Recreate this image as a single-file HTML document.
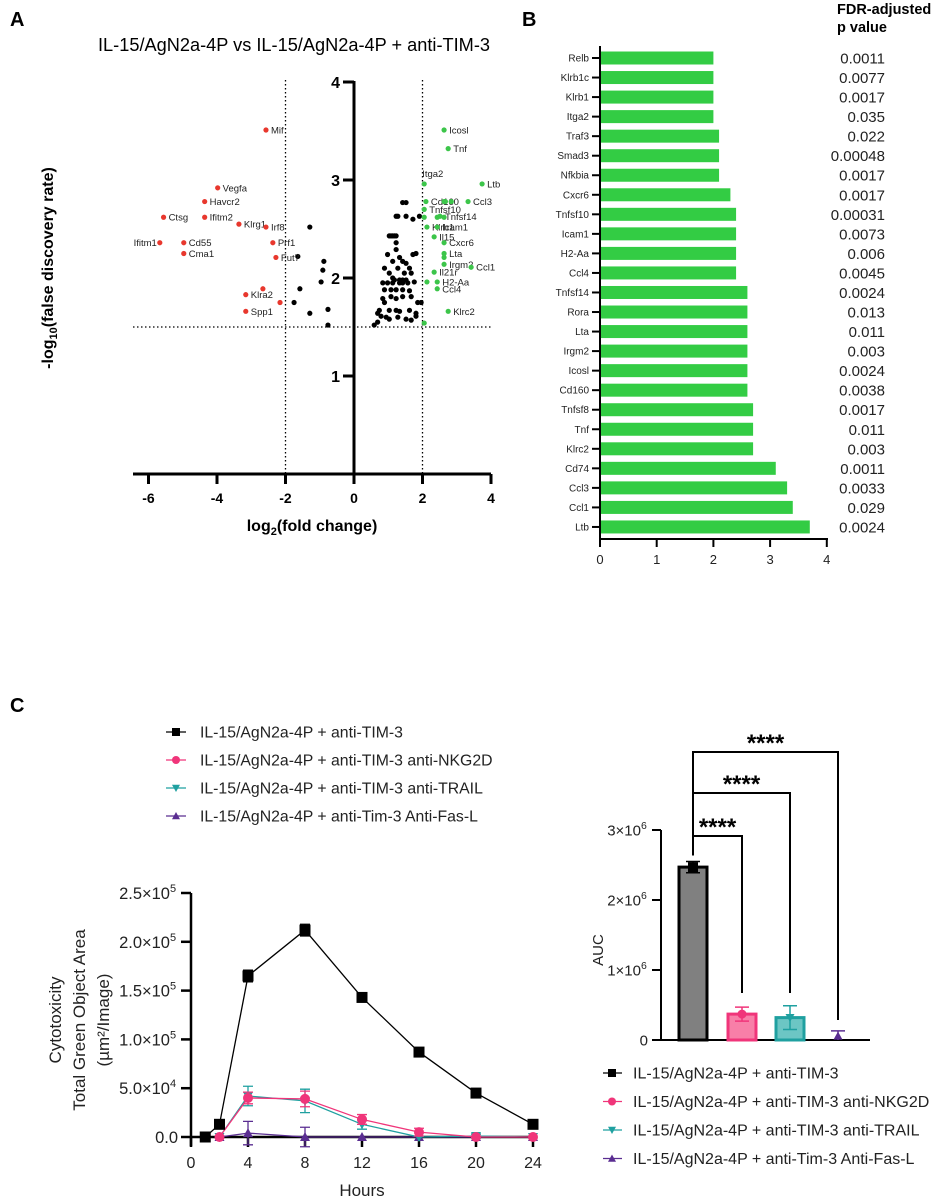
<!DOCTYPE html>
<html><head><meta charset="utf-8"><style>
html,body{margin:0;padding:0;background:#fff;}
svg{display:block;font-family:"Liberation Sans",Arial,sans-serif;}
</style></head><body>
<svg id="fig" width="938" height="1199" viewBox="0 0 938 1199" xmlns="http://www.w3.org/2000/svg">
<g id="pa"></g>
<g id="pb"></g>
<g id="pc1"></g>
<g id="pc2"></g>
</svg>
<script>
// ---------- Panel A data ----------
const redGenes = ["Mif","Vegfa","Havcr2","Ctsg","Ifitm2","Klrg1","Irf8","Ifitm1","Cd55","Cma1","Prf1","Fut7","Klra2","Spp1","",""];
const redX = [-2.57,-3.98,-4.36,-5.56,-4.36,-3.36,-2.57,-5.67,-4.97,-4.97,-2.37,-2.28,-3.16,-3.16,-2.66,-2.16];
const redY = [3.51,2.92,2.78,2.62,2.62,2.55,2.52,2.36,2.36,2.25,2.36,2.21,1.83,1.66,1.89,1.75];
const greenGenes = ["Icosl","Tnf","Itga2","Ltb","Cd160","","","","Ccl3","Tnfsf10","","","","Tnfsf14","Klrb1","Icam1","Il15","Cxcr6","Lta","","Irgm2","Ccl1","Il21r","","H2-Aa","Ccl4","Klrc2",""];
const greenX = [2.63,2.75,2.05,3.74,2.10,2.63,2.67,2.84,3.33,2.05,2.05,2.43,2.63,2.51,2.13,2.43,2.34,2.63,2.63,2.63,2.63,3.42,2.34,2.13,2.43,2.43,2.75,2.05];
const greenY = [3.51,3.32,2.96,2.96,2.78,2.78,2.78,2.78,2.78,2.70,2.62,2.62,2.62,2.63,2.52,2.52,2.42,2.36,2.25,2.21,2.14,2.11,2.06,1.96,1.96,1.89,1.66,1.54];
const blackX = [-1.29,-1.64,-0.88,-0.91,-0.96,-1.58,-1.75,-0.76,-1.29,-0.76,
 1.42,1.52,1.23,1.28,1.52,1.72,1.91,1.03,1.08,1.13,1.18,1.23,1.23,1.23,1.33,0.98,1.72,1.81,1.13,1.42,1.52,
 0.89,1.03,1.28,1.47,1.62,1.67,1.13,1.18,1.33,1.42,1.52,0.84,0.98,1.13,1.33,1.42,1.57,1.76,0.89,1.08,1.23,1.42,1.62,
 0.84,1.08,1.23,1.42,1.67,1.86,1.96,0.89,1.03,1.23,1.33,1.62,1.81,0.74,0.69,0.79,0.94,1.03,1.28,1.52,0.69,0.59,1.67,1.81];
const blackY = [2.52,2.22,2.17,2.08,1.96,1.89,1.75,1.68,1.64,1.52,
 2.77,2.77,2.63,2.63,2.63,2.60,2.63,2.43,2.43,2.43,2.43,2.43,2.36,2.29,2.21,2.24,2.24,2.25,2.17,2.17,2.15,
 2.10,2.05,2.10,2.05,2.10,2.05,2.00,1.98,1.98,1.98,1.98,1.95,1.95,1.95,1.95,1.95,1.95,1.96,1.88,1.88,1.88,1.88,1.87,
 1.79,1.81,1.79,1.81,1.81,1.75,1.75,1.75,1.67,1.67,1.66,1.67,1.64,1.67,1.64,1.61,1.60,1.58,1.60,1.58,1.55,1.52,1.57,1.61];
const volXTicks = [-6,-4,-2,0,2,4];
const volYTicks = [1,2,3,4];

// ---------- Panel B data ----------
const bGenes = ["Relb","Klrb1c","Klrb1","Itga2","Traf3","Smad3","Nfkbia","Cxcr6","Tnfsf10","Icam1","H2-Aa","Ccl4","Tnfsf14","Rora","Lta","Irgm2","Icosl","Cd160","Tnfsf8","Tnf","Klrc2","Cd74","Ccl3","Ccl1","Ltb"];
const bValues = [2.0,2.0,2.0,2.0,2.1,2.1,2.1,2.3,2.4,2.4,2.4,2.4,2.6,2.6,2.6,2.6,2.6,2.6,2.7,2.7,2.7,3.1,3.3,3.4,3.7];
const bPvals = ["0.0011","0.0077","0.0017","0.035","0.022","0.00048","0.0017","0.0017","0.00031","0.0073","0.006","0.0045","0.0024","0.013","0.011","0.003","0.0024","0.0038","0.0017","0.011","0.003","0.0011","0.0033","0.029","0.0024"];
const bTicks = [0,1,2,3,4];

// ---------- Panel C data ----------
const cHours = [1,2,4,8,12,16,20,24];
const cBlack = [0,13000,165000,212000,143000,87000,45000,13000];
const cBlackErr = [0,0,6000,6000,0,0,0,0];
const cPink = [0,0,40000,39000,18000,5000,0,0];
const cPinkErr = [0,0,6000,8000,5000,4000,0,0];
const cTeal = [0,0,42000,37000,13000,0,1000,0];
const cTealErr = [0,0,10000,12000,5000,0,2000,0];
const cPurple = [0,0,4000,0,0,0,0,0];
const cPurpleErr = [0,0,12000,10000,0,0,0,0];
const cXTicks = [0,4,8,12,16,20,24];
const cYTicks = [0,50000,100000,150000,200000,250000];
const cYLabels = ["0.0","5.0×10","1.0×10","1.5×10","2.0×10","2.5×10"];
const cYExp = ["","4","5","5","5","5"];
const aucValues = [2470000,370000,320000,0];
const aucErr = [80000,100000,170000,130000];
const aucTicks = [0,1000000,2000000,3000000];
const aucLabels = ["0","1×10","2×10","3×10"];
const aucExp = ["","6","6","6"];
const seriesNames = ["IL-15/AgN2a-4P + anti-TIM-3","IL-15/AgN2a-4P + anti-TIM-3 anti-NKG2D","IL-15/AgN2a-4P + anti-TIM-3 anti-TRAIL","IL-15/AgN2a-4P + anti-Tim-3 Anti-Fas-L"];

const NS="http://www.w3.org/2000/svg";
function mk(parent,tag,attrs,text){const e=document.createElementNS(NS,tag);for(const k in attrs)e.setAttribute(k,attrs[k]);if(text!==undefined)e.textContent=text;parent.appendChild(e);return e;}

// ================= PANEL A =================
const pa=document.getElementById('pa');
const vx=v=>354+v*34.25, vy=v=>474-v*98;
let t;
t=mk(pa,'text',{x:10,y:26,'font-size':20,'font-weight':'bold'},'A');


t=mk(pa,'text',{x:294,y:51,'font-size':18,'text-anchor':'middle',textLength:392,lengthAdjust:'spacingAndGlyphs'},'IL-15/AgN2a-4P vs IL-15/AgN2a-4P + anti-TIM-3');


[-2,2].forEach(v=>{const l=mk(pa,'line',{x1:vx(v),x2:vx(v),y1:80,y2:474,stroke:'#000','stroke-width':1.3,'stroke-dasharray':'1.5,2.5'});

});
t=mk(pa,'line',{x1:133,x2:491,y1:vy(1.5),y2:vy(1.5),stroke:'#000','stroke-width':1.3,'stroke-dasharray':'1.5,2.5'});


t=mk(pa,'line',{x1:133,x2:491,y1:474,y2:474,stroke:'#000','stroke-width':3});


t=mk(pa,'line',{x1:354,x2:354,y1:vy(4)-1,y2:474,stroke:'#000','stroke-width':3});


volXTicks.forEach(v=>{mk(pa,'line',{x1:vx(v),x2:vx(v),y1:474,y2:484,stroke:'#000','stroke-width':3});
const tt=mk(pa,'text',{x:vx(v),y:503,'font-size':14,'font-weight':'bold','text-anchor':'middle'},String(v));

});
volYTicks.forEach(v=>{mk(pa,'line',{x1:343,x2:354,y1:vy(v),y2:vy(v),stroke:'#000','stroke-width':3});
const tt=mk(pa,'text',{x:340,y:vy(v)+6,'font-size':16,'font-weight':'bold','text-anchor':'end'},String(v));

});
t=mk(pa,'text',{x:312,y:531,'font-size':16,'font-weight':'bold','text-anchor':'middle'});
t.innerHTML='log<tspan font-size="11" dy="4">2</tspan><tspan dy="-4">(fold change)</tspan>';


t=mk(pa,'text',{x:0,y:0,'font-size':16,'font-weight':'bold','text-anchor':'middle',transform:'translate(53,268) rotate(-90)'});
t.innerHTML='-log<tspan font-size="11" dy="4">10</tspan><tspan dy="-4">(false discovery rate)</tspan>';


blackX.forEach((v,i)=>{const c=mk(pa,'circle',{cx:vx(v),cy:vy(blackY[i]),r:2.6,fill:'#000'});

});
function lab(g,x,y,s,name){if(!s)return;let ax=x+5,ay=y+3.5,anc='start';
 if(s==='Itga2'){ax=x-2;ay=y-7;} if(s==='Ifitm1'){ax=x-3;anc='end';}
 const tt=mk(g,'text',{x:ax,y:ay,'font-size':9.5,'text-anchor':anc,fill:'#222'},s);
 
 }
redX.forEach((v,i)=>{const c=mk(pa,'circle',{cx:vx(v),cy:vy(redY[i]),r:2.6,fill:'#e8372d'});


lab(pa,vx(v),vy(redY[i]),redGenes[i],'down');});
greenX.forEach((v,i)=>{const c=mk(pa,'circle',{cx:vx(v),cy:vy(greenY[i]),r:2.6,fill:'#3cc54a'});


lab(pa,vx(v),vy(greenY[i]),greenGenes[i],'up');});

// ================= PANEL B =================
const pb=document.getElementById('pb');
const bx=v=>600+v*56.7, by=i=>58+i*19.54;
t=mk(pb,'text',{x:522,y:26,'font-size':20,'font-weight':'bold'},'B');


t=mk(pb,'text',{x:837,y:14,'font-size':14.5,'font-weight':'bold'},'FDR-adjusted');


t=mk(pb,'text',{x:837,y:32,'font-size':14.5,'font-weight':'bold'},'p value');


bValues.forEach((v,i)=>{const r=mk(pb,'rect',{x:bx(0)+1,y:by(i)-6.5,width:bx(v)-bx(0)-1,height:13,fill:'#33cc44'});


mk(pb,'line',{x1:592,x2:600,y1:by(i),y2:by(i),stroke:'#000','stroke-width':2});
const tt=mk(pb,'text',{x:589,y:by(i)+3.5,'font-size':10,'text-anchor':'end',fill:'#222'},bGenes[i]);


const pv=mk(pb,'text',{x:885,y:by(i)+5.5,'font-size':15,'text-anchor':'end',fill:'#222'},bPvals[i]);

});
t=mk(pb,'line',{x1:600,x2:600,y1:46,y2:540,stroke:'#000','stroke-width':2});


t=mk(pb,'line',{x1:599,x2:828,y1:539,y2:539,stroke:'#000','stroke-width':2});


bTicks.forEach(v=>{mk(pb,'line',{x1:bx(v),x2:bx(v),y1:539,y2:547,stroke:'#000','stroke-width':2});
const tt=mk(pb,'text',{x:bx(v),y:564,'font-size':13,'text-anchor':'middle',fill:'#222'},String(v));

});

// ================= PANEL C (line) =================
const pc=document.getElementById('pc1');
const cx=h=>191+h*14.25, cy=v=>1137-v/100000*97.6;
t=mk(pc,'text',{x:10,y:712,'font-size':20,'font-weight':'bold'},'C');


const cols=['#000','#f0357a','#1fa0a0','#5a2d91'];
function marker(g,type,x,y,col,s){
 if(type===0) return mk(g,'rect',{x:x-s,y:y-s,width:2*s,height:2*s,fill:col});
 if(type===1) return mk(g,'circle',{cx:x,cy:y,r:s,fill:col});
 if(type===2) return mk(g,'path',{d:`M${x-s},${y-s*0.8}L${x+s},${y-s*0.8}L${x},${y+s}Z`,fill:col});
 return mk(g,'path',{d:`M${x-s},${y+s*0.8}L${x+s},${y+s*0.8}L${x},${y-s}Z`,fill:col});}
seriesNames.forEach((n,i)=>{const y=732+i*28;
 mk(pc,'line',{x1:166,x2:186,y1:y,y2:y,stroke:cols[i],'stroke-width':1.3});
 marker(pc,i,176,y,cols[i],4);
 const tt=mk(pc,'text',{x:200,y:y+5.5,'font-size':15.8,fill:'#222'},n);
 
 });
t=mk(pc,'line',{x1:191,x2:191,y1:cy(250000),y2:1146,stroke:'#000','stroke-width':2.5});


t=mk(pc,'line',{x1:190,x2:cx(24),y1:1137,y2:1137,stroke:'#000','stroke-width':2.5});


cYTicks.forEach((v,i)=>{mk(pc,'line',{x1:181,x2:191,y1:cy(v),y2:cy(v),stroke:'#000','stroke-width':2.5});
const tt=mk(pc,'text',{x:cYExp[i]?170:178,y:cy(v)+6,'font-size':16.5,'text-anchor':'end',fill:'#222'},cYLabels[i]);


if(cYExp[i]){mk(pc,'text',{x:170,y:cy(v)-1,'font-size':11,fill:'#222'},cYExp[i]);}});
cXTicks.forEach(v=>{mk(pc,'line',{x1:cx(v),x2:cx(v),y1:1137,y2:1147,stroke:'#000','stroke-width':2.5});
const tt=mk(pc,'text',{x:cx(v),y:1168,'font-size':16,'text-anchor':'middle',fill:'#222'},String(v));

});
t=mk(pc,'text',{x:362,y:1196,'font-size':17,'text-anchor':'middle',fill:'#222'},'Hours');


['Cytotoxicity','Total Green Object Area','(µm²/Image)'].forEach((s,i)=>{
 const tt=mk(pc,'text',{x:0,y:0,'font-size':17,'text-anchor':'middle',fill:'#222',transform:`translate(61+${0},0)`},s);
 tt.setAttribute('transform',`translate(${61+i*24},1020) rotate(-90)`);
 
 });
const series=[[cBlack,cBlackErr],[cPink,cPinkErr],[cTeal,cTealErr],[cPurple,cPurpleErr]];
[3,2,1,0].forEach(si=>{const [vals,errs]=series[si];const col=cols[si];
 const idx=si===0?cHours.map((h,i)=>i):cHours.map((h,i)=>i).filter(i=>i>0);
 const pl=mk(pc,'polyline',{points:idx.map(i=>cx(cHours[i])+','+cy(vals[i])).join(' '),fill:'none',stroke:col,'stroke-width':1.3});
 
 
 idx.forEach(i=>{const x=cx(cHours[i]),y=cy(vals[i]);
  if(errs[i]>0){mk(pc,'path',{d:`M${x},${cy(vals[i]-errs[i])}V${cy(vals[i]+errs[i])}M${x-5},${cy(vals[i]+errs[i])}H${x+5}M${x-5},${cy(vals[i]-errs[i])}H${x+5}`,stroke:col,'stroke-width':1.3,fill:'none'});}
  const m=marker(pc,si,x,y,col,si===0?5.5:5);
  
  });});

// ================= PANEL C (AUC) =================
const pd=document.getElementById('pc2');
const ay=v=>1040-v/1000000*70;
const barCx=[693,742,790,838];
const fills=['#808080','#f87fa8','#6cc6c4','#8a6cc0'];
t=mk(pd,'line',{x1:661,x2:661,y1:ay(3000000),y2:1041,stroke:'#000','stroke-width':2});


t=mk(pd,'line',{x1:652,x2:870,y1:1040,y2:1040,stroke:'#000','stroke-width':2});


aucTicks.forEach((v,i)=>{mk(pd,'line',{x1:652,x2:661,y1:ay(v),y2:ay(v),stroke:'#000','stroke-width':2});
const tt=mk(pd,'text',{x:aucExp[i]?641:648,y:ay(v)+5.5,'font-size':15,'text-anchor':'end',fill:'#222'},aucLabels[i]);


if(aucExp[i])mk(pd,'text',{x:641,y:ay(v)-1,'font-size':10.5,fill:'#222'},aucExp[i]);});
t=mk(pd,'text',{x:0,y:0,'font-size':15,'text-anchor':'middle',fill:'#222',transform:'translate(603,950) rotate(-90)'},'AUC');


aucValues.forEach((v,i)=>{const x=barCx[i];
 if(v>0){const r=mk(pd,'rect',{x:x-14,y:ay(v),width:28,height:1040-ay(v),fill:fills[i],stroke:i===0?'#000':cols[i],'stroke-width':3});
 
 }
 const e=aucErr[i];const lo=Math.max(0,v-e);
 mk(pd,'path',{d:`M${x},${ay(lo)}V${ay(v+e)}M${x-7},${ay(v+e)}H${x+7}`+(v>0?`M${x-7},${ay(lo)}H${x+7}`:''),stroke:i===0?'#000':cols[i],'stroke-width':1.5,fill:'none'});
 const m=marker(pd,i,x,ay(v)-(i===3?4:0),cols[i],i===0?5:4.5);
 
 });
const brY=[836,793,752], brEnd=[993,993,1020], starY=[829,786,745];
[1,2,3].forEach((b,k)=>{const p=mk(pd,'path',{d:`M693,${ay(aucValues[0]+aucErr[0])-6}V${brY[k]}H${barCx[b]}V${brEnd[k]}`,stroke:'#000','stroke-width':2,fill:'none'});
 
 
 const s=mk(pd,'text',{x:(693+barCx[b])/2,y:starY[k]+6,'font-size':24,'font-weight':'bold','text-anchor':'middle'},'****');
 
 });
seriesNames.forEach((n,i)=>{const y=1073+i*28.5;
 mk(pd,'line',{x1:603,x2:622,y1:y,y2:y,stroke:cols[i],'stroke-width':1.3});
 marker(pd,i,612,y,cols[i],4);
 const tt=mk(pd,'text',{x:633,y:y+5.5,'font-size':16,fill:'#222'},n);
 
 });
</script>
</body></html>
